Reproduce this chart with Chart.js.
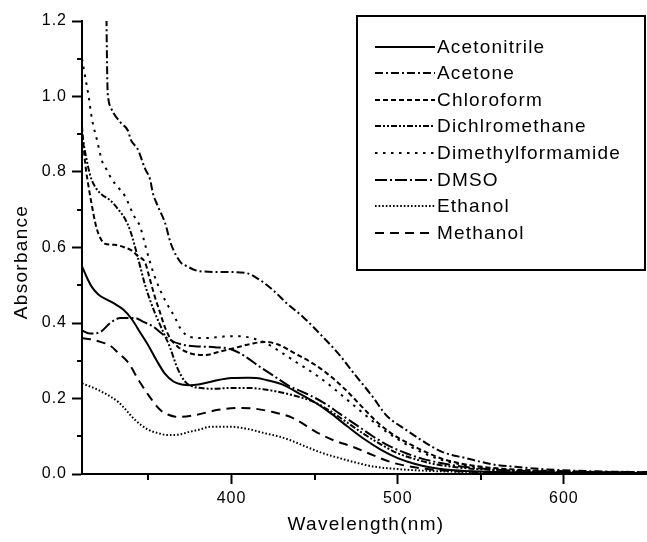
<!DOCTYPE html>
<html><head><meta charset="utf-8">
<script src="https://cdn.jsdelivr.net/npm/chart.js@4"></script>
<style>html,body{margin:0;padding:0;background:#fff}</style>
</head><body>
<canvas id="c" width="647" height="542" style="display:block;width:647px;height:542px"></canvas>
<script>
// ---------- data ----------
const seriesNames = ['Acetonitrile','Acetone','Chloroform','Dichlromethane','Dimethylformamide','DMSO','Ethanol','Methanol'];

const acetonitrileX = [310,313,316,320,325,330,335,340,345,350,355,360,365,370,375,380,390,400,410,415,420,430,440,450,460,470,480,490,500,510,520,530,540,560,600,650];
const acetonitrileY = [0.55,0.52,0.495,0.475,0.462,0.45,0.435,0.41,0.375,0.34,0.30,0.265,0.245,0.237,0.235,0.237,0.247,0.254,0.255,0.254,0.25,0.238,0.215,0.19,0.16,0.125,0.092,0.064,0.042,0.027,0.017,0.011,0.008,0.005,0.003,0.002];

const acetoneX = [324.6,325.3,326,327.4,333.4,337.6,339.4,343.6,347.8,351,352.6,355.6,360,363.5,369.5,372,381,397,409,417,425,433,443,455,465,473,485,493,505,517,527,541,559,571,590,620,650];
const acetoneY = [1.25,1.03,0.99,0.97,0.93,0.91,0.885,0.86,0.81,0.78,0.745,0.71,0.665,0.61,0.56,0.553,0.537,0.535,0.532,0.514,0.487,0.453,0.416,0.363,0.315,0.27,0.204,0.156,0.117,0.082,0.058,0.042,0.024,0.019,0.012,0.007,0.005];

const chloroformX = [310,312,314,316,318,320,323.8,329.8,335.8,339.5,343.7,348,350.6,353.8,356.8,359.8,363,368,375,384,392,402,412,420,428,437,447,457,467,477,487,497,507,517,527,540,560,600,650];
const chloroformY = [0.92,0.82,0.76,0.71,0.665,0.635,0.61,0.607,0.60,0.593,0.577,0.56,0.52,0.47,0.43,0.39,0.36,0.336,0.32,0.315,0.323,0.334,0.345,0.35,0.343,0.322,0.298,0.268,0.23,0.185,0.14,0.105,0.08,0.058,0.04,0.026,0.015,0.007,0.004];

const dichloromethaneX = [310,312,315,318,322,327,332,336,339,342,345,348,351,354,357,360,363,367,372,378,390,400,410,420,430,440,450,460,470,480,490,500,510,520,535,555,600,650];
const dichloromethaneY = [0.90,0.85,0.79,0.76,0.74,0.725,0.70,0.675,0.645,0.60,0.55,0.50,0.46,0.425,0.395,0.365,0.335,0.285,0.245,0.23,0.226,0.228,0.228,0.224,0.216,0.205,0.19,0.165,0.135,0.105,0.078,0.055,0.04,0.028,0.018,0.011,0.005,0.003];

const dmfX = [310,312,314,316,319,322,325,328,332,336,341,345,348,351,354.5,360,366,369,375,385,395,405,412,420,430,440,450,460,470,480,490,500,510,520,530,540,560,600,650];
const dmfY = [1.10,1.05,1.0,0.94,0.885,0.83,0.805,0.78,0.758,0.735,0.686,0.655,0.607,0.56,0.514,0.46,0.414,0.387,0.363,0.36,0.364,0.365,0.36,0.348,0.322,0.293,0.265,0.232,0.195,0.158,0.122,0.092,0.067,0.047,0.033,0.024,0.013,0.007,0.004];

const dmsoX = [310,315,321,327,333,342,347,353,358,363,370,380,390,400,408,416,426,434,444,455,465,475,485,495,505,515,525,540,560,600,650];
const dmsoY = [0.38,0.372,0.376,0.40,0.413,0.413,0.403,0.39,0.372,0.355,0.343,0.338,0.336,0.33,0.312,0.287,0.258,0.235,0.215,0.19,0.16,0.13,0.1,0.074,0.055,0.04,0.03,0.019,0.011,0.006,0.004];

const ethanolX = [310,320,332,342,350,356,362,368,374,381,387,400,411,420,428,435,445,455,465,475,485,500,520,550,600,650];
const ethanolY = [0.24,0.222,0.19,0.143,0.117,0.108,0.103,0.104,0.111,0.118,0.125,0.125,0.118,0.108,0.1,0.09,0.072,0.055,0.042,0.03,0.02,0.013,0.008,0.005,0.003,0.002];

const methanolX = [310,315,321,327,332,338,344,350,357,362,368,378,392,405,412,425,437,451,461,473,485,497,510,525,550,600,650];
const methanolY = [0.36,0.357,0.35,0.34,0.32,0.294,0.249,0.209,0.17,0.157,0.151,0.156,0.17,0.175,0.174,0.164,0.148,0.111,0.09,0.072,0.05,0.03,0.018,0.01,0.005,0.003,0.002];

const xMajorTicks = [400,500,600];
const xMinorTicks = [350,450,550];
const yMajorTicks = [0,0.2,0.4,0.6,0.8,1.0,1.2];
const yMinorTicks = [0.1,0.3,0.5,0.7,0.9,1.1];

// ---------- styles ----------
const dashes = [[], [8,3,2,3], [5,3], [6,2,2,2,2,2], [2.5,5.5], [12,3,2,3], [1.6,2], [9,6]];
const widths = [2,2,2,2,2,2,2,2];

const xs = [acetonitrileX, acetoneX, chloroformX, dichloromethaneX, dmfX, dmsoX, ethanolX, methanolX];
const ys = [acetonitrileY, acetoneY, chloroformY, dichloromethaneY, dmfY, dmsoY, ethanolY, methanolY];

const datasets = seriesNames.map((name, i) => ({
  label: name,
  data: xs[i].map((x, j) => ({x: x, y: ys[i][j]})),
  borderColor: '#000',
  borderWidth: widths[i],
  borderDash: dashes[i],
  pointRadius: 0,
  fill: false,
  cubicInterpolationMode: 'monotone'
}));

const FONT = '"Liberation Sans", Arial, Helvetica, sans-serif';

const decor = {
  id: 'decor',
  beforeDraw(chart) { chart.ctx.letterSpacing = '1px'; },
  afterDraw(chart) {
    const ctx = chart.ctx;
    const xS = chart.scales.x, yS = chart.scales.y, ca = chart.chartArea;
    ctx.save();
    ctx.setLineDash([]);
    ctx.strokeStyle = '#000';
    ctx.lineWidth = 2;
    // minor ticks
    ctx.beginPath();
    xMinorTicks.forEach(v => { const px = Math.round(xS.getPixelForValue(v)); ctx.moveTo(px, ca.bottom); ctx.lineTo(px, ca.bottom + 6); });
    yMinorTicks.forEach(v => { const py = Math.round(yS.getPixelForValue(v)); ctx.moveTo(ca.left - 5, py); ctx.lineTo(ca.left, py); });
    ctx.stroke();

    // axis titles
    ctx.fillStyle = '#000';
    ctx.font = '19px ' + FONT;
    ctx.letterSpacing = '1.3px';
    ctx.textAlign = 'center';
    ctx.textBaseline = 'alphabetic';
    ctx.fillText('Wavelength(nm)', 366, 530);
    ctx.save();
    ctx.translate(27, 262);
    ctx.rotate(-Math.PI / 2);
    ctx.fillText('Absorbance', 0, 0);
    ctx.restore();

    // legend
    ctx.lineWidth = 2;
    ctx.strokeRect(357, 16, 288, 254);
    ctx.font = '19px ' + FONT;
    ctx.letterSpacing = '1.2px';
    ctx.textAlign = 'left';
    ctx.textBaseline = 'middle';
    chart.data.datasets.forEach((ds, i) => {
      const y = Math.round(46.5 + i * 26.6);
      ctx.setLineDash(ds.borderDash);
      ctx.lineWidth = ds.borderWidth;
      ctx.beginPath();
      ctx.moveTo(375, y); ctx.lineTo(435, y);
      ctx.stroke();
      ctx.setLineDash([]);
      ctx.fillText(ds.label, 437, y + 1);
    });
    ctx.restore();
  }
};

new Chart(document.getElementById('c'), {
  type: 'line',
  data: { datasets: datasets },
  options: {
    responsive: false,
    animation: false,
    devicePixelRatio: 1,
    layout: { padding: { top: 21, left: 0, right: 0, bottom: 0 } },
    plugins: { legend: { display: false }, tooltip: { enabled: false } },
    scales: {
      x: {
        type: 'linear', min: 310, max: 650,
        afterBuildTicks: s => { s.ticks = xMajorTicks.map(v => ({value: v})); },
        afterFit: s => { s.height = 68; },
        ticks: { color: '#000', font: { family: FONT, size: 16 }, padding: 5, maxRotation: 0, autoSkip: false },
        grid: { drawOnChartArea: false, drawTicks: true, tickLength: 10, tickWidth: 2, tickColor: '#000' },
        border: { display: true, color: '#000', width: 2 },
        title: { display: false }
      },
      y: {
        type: 'linear', min: 0, max: 1.2,
        afterBuildTicks: s => { s.ticks = yMajorTicks.map(v => ({value: v})); },
        afterFit: s => { s.width = 82; },
        ticks: { color: '#000', font: { family: FONT, size: 16 }, padding: 5, callback: v => Number(v).toFixed(1) },
        grid: { drawOnChartArea: false, drawTicks: true, tickLength: 10, tickWidth: 2, tickColor: '#000' },
        border: { display: true, color: '#000', width: 2 },
        title: { display: false }
      }
    }
  },
  plugins: [decor]
});
</script>
</body></html>
